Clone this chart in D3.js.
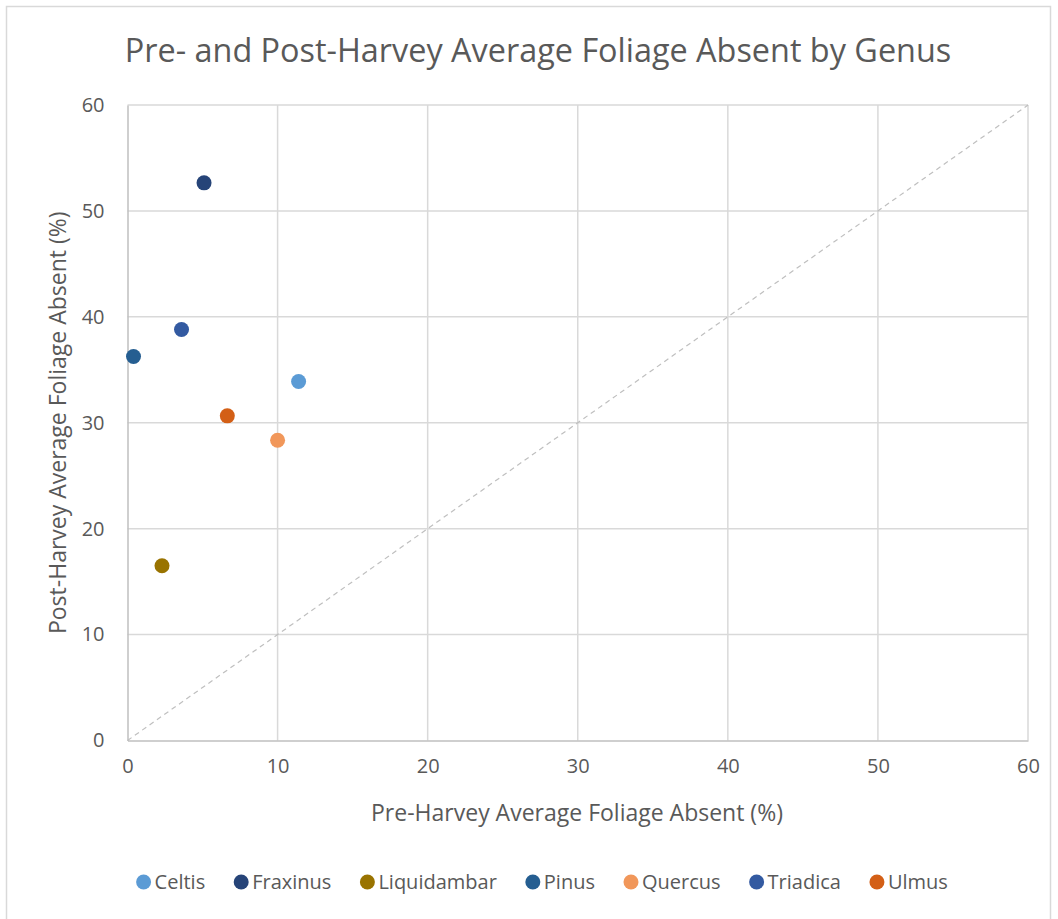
<!DOCTYPE html>
<html>
<head>
<meta charset="utf-8">
<script src="https://cdn.jsdelivr.net/npm/d3@7"></script>
<style>
  body { margin: 0; background: #fff; }
  svg text { font-family: "Open Sans", sans-serif; fill: #595959; }
</style>
</head>
<body>
<svg id="chart" width="1058" height="919"></svg>
<script>
// genus values
const genera = ['Celtis', 'Fraxinus', 'Liquidambar', 'Pinus', 'Quercus', 'Triadica', 'Ulmus']
const preHarvey = [11.4, 5.1, 2.3, 0.4, 10.0, 3.6, 6.65]
const postHarvey = [33.9, 52.65, 16.5, 36.25, 28.35, 38.8, 30.65]
const colors = ['#5B9BD5', '#264478', '#997300', '#255E91', '#F1975A', '#335AA1', '#D35F16']
const ticks = [0, 10, 20, 30, 40, 50, 60]

const svg = d3.select('#chart')
const plot = { left: 127.5, right: 1028, top: 105, bottom: 740.5 }

// chart border
svg.append('rect')
    .attr('x', 6.5).attr('y', 6.5)
    .attr('width', 1044).attr('height', 940)
    .attr('fill', 'none').attr('stroke', '#d9d9d9').attr('stroke-width', 1.5)

const x = d3.scaleLinear().domain([0, 60]).range([plot.left, plot.right])
const y = d3.scaleLinear().domain([0, 60]).range([plot.bottom, plot.top])

// GRIDLINES
const grid = svg.append('g')
grid.selectAll('.vg').data(ticks.slice(1)).join('line')
    .attr('x1', d => x(d)).attr('x2', d => x(d))
    .attr('y1', plot.top).attr('y2', plot.bottom)
    .attr('stroke', '#d9d9d9').attr('stroke-width', 1.5)
grid.selectAll('.hg').data(ticks.slice(1)).join('line')
    .attr('y1', d => y(d)).attr('y2', d => y(d))
    .attr('x1', plot.left).attr('x2', plot.right)
    .attr('stroke', '#d9d9d9').attr('stroke-width', 1.5)

// AXES
const xAxis = svg.append('g')
    .attr('transform', `translate(0, ${plot.bottom})`)
    .call(d3.axisBottom(x).tickValues(ticks).tickSize(0).tickPadding(22))
const yAxis = svg.append('g')
    .attr('transform', `translate(${plot.left}, 0)`)
    .call(d3.axisLeft(y).tickValues(ticks).tickSize(0).tickPadding(23))
;[xAxis, yAxis].forEach(a => {
    a.select('.domain').attr('stroke', '#bfbfbf').attr('stroke-width', 1.5)
    a.selectAll('text').style('font-size', '20px').attr('fill', '#595959')
})
xAxis.selectAll('text').attr('dy', '0.5em')

// 1:1 reference line
svg.append('line')
    .attr('x1', x(0)).attr('y1', y(0))
    .attr('x2', x(60)).attr('y2', y(60))
    .attr('stroke', '#bfbfbf').attr('stroke-width', 1.2)
    .attr('stroke-dasharray', '5,4')

// POINTS
svg.append('g').selectAll('circle').data(genera)
    .join('circle')
    .attr('cx', (d, i) => x(preHarvey[i]))
    .attr('cy', (d, i) => y(postHarvey[i]))
    .attr('r', 7.5)
    .attr('fill', (d, i) => colors[i])

// TITLES
svg.append('text')
    .attr('x', 538).attr('y', 62)
    .attr('text-anchor', 'middle')
    .style('font-size', '32.4px')
    .text('Pre- and Post-Harvey Average Foliage Absent by Genus')

svg.append('text')
    .attr('x', 577).attr('y', 821)
    .attr('text-anchor', 'middle')
    .style('font-size', '23px')
    .text('Pre-Harvey Average Foliage Absent (%)')

svg.append('text')
    .attr('transform', `translate(66, ${(plot.top + plot.bottom) / 2}) rotate(-90)`)
    .attr('text-anchor', 'middle')
    .style('font-size', '23px')
    .text('Post-Harvey Average Foliage Absent (%)')

// LEGEND
const legend = svg.append('g')
const items = legend.selectAll('g').data(genera).join('g')
items.append('circle').attr('r', 7.5).attr('fill', (d, i) => colors[i])
items.append('text')
    .attr('x', 11).attr('dy', '0.35em')
    .style('font-size', '20px')
    .text(d => d)
let cx = 0
let lastEnd = 0
items.each(function () {
    const g = d3.select(this)
    g.attr('transform', `translate(${cx}, 0)`)
    const tw = g.select('text').node().getComputedTextLength()
    lastEnd = cx + 11 + tw
    cx = lastEnd + 36
})
const legendW = lastEnd + 7.5
legend.attr('transform', `translate(${542 - legendW / 2 + 7.5}, 882)`)
</script>
</body>
</html>
